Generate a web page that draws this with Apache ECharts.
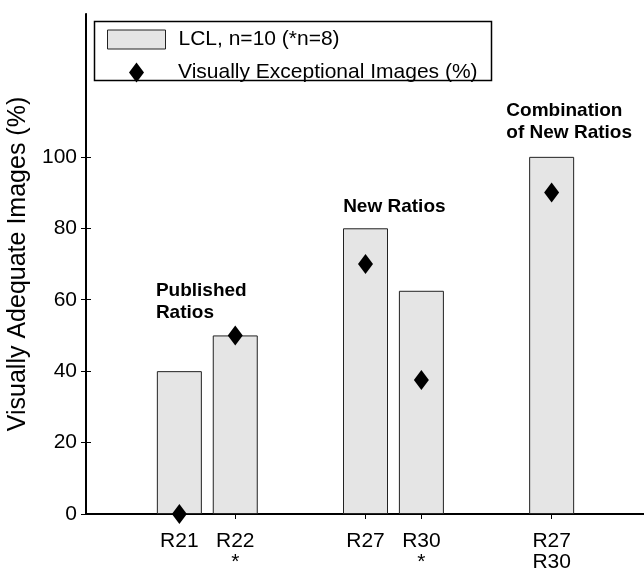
<!DOCTYPE html>
<html><head><meta charset="utf-8">
<script src="https://cdn.jsdelivr.net/npm/echarts@6/dist/echarts.min.js"></script>
<style>html,body{margin:0;padding:0;background:#fff}#c{width:644px;height:572px}</style>
</head><body><div id="c"></div>
<script>
// ---- data ----
const categories = ['R21', 'R22\n*', 'R27', 'R30\n*', 'R27\nR30'];
const xPositions = [1.67, 2.67, 5, 6, 8.33];
const lclValues = [40, 50, 80, 62.5, 100];
const exceptionalValues = [0, 50, 70, 37.5, 90];
const yTicks = [0, 20, 40, 60, 80, 100];
const annotationTexts = ['Published\nRatios', 'New Ratios', 'Combination\nof New Ratios'];
const annotationX = [1.25, 4.6, 7.52];
const annotationY = [65.5, 89.2, 116];
const seriesNames = ['LCL, n=10 (*n=8)', 'Visually Exceptional Images (%)'];

const FONT = 'Liberation Sans';
const chart = echarts.init(document.getElementById('c'));
chart.setOption({
  animation: false,
  textStyle: { fontFamily: FONT },
  grid: { left: 86, top: 14, width: 559, height: 500, containLabel: false, outerBoundsMode: 'none' },
  legend: [
    { data: [{ name: seriesNames[0], icon: 'rect' }], left: 107, top: 29, padding: 0, itemWidth: 58, itemHeight: 19,
      selectedMode: false, itemStyle: { borderColor: '#222', borderWidth: 1 },
      textStyle: { fontFamily: FONT, fontSize: 21, color: '#000', padding: [0, 0, 0, 8] } },
    { data: [{ name: seriesNames[1], icon: 'diamond' }], left: 129, top: 62, padding: 0, itemWidth: 15, itemHeight: 20,
      selectedMode: false, itemStyle: { color: '#000', borderWidth: 0, opacity: 1 },
      textStyle: { fontFamily: FONT, fontSize: 21, color: '#000', padding: [0, 0, 0, 29] } }
  ],
  graphic: [{ type: 'rect', shape: { x: 94.5, y: 21.5, width: 397, height: 59 },
    style: { fill: 'none', stroke: '#000', lineWidth: 1.5 }, z: 10 }],
  xAxis: [
    { type: 'value', min: 0, max: 10, position: 'bottom',
      axisLine: { show: true, lineStyle: { color: '#000', width: 2 } },
      axisTick: { show: true, inside: true, length: 5, customValues: xPositions, lineStyle: { color: '#000' } },
      axisLabel: { customValues: xPositions, color: '#000', fontSize: 21, lineHeight: 21, margin: 17,
        formatter: v => categories[xPositions.indexOf(v)] ?? '' },
      splitLine: { show: false } },
    { type: 'value', min: 0, max: 10, position: 'top',
      axisLine: { show: true, lineStyle: { color: '#000', width: 1 } },
      axisTick: { show: true, inside: true, length: 5, customValues: xPositions, lineStyle: { color: '#000' } },
      axisLabel: { show: false }, splitLine: { show: false } }
  ],
  yAxis: [
    { type: 'value', min: 0, max: 140, interval: 20, position: 'left',
      name: 'Visually Adequate Images (%)', nameLocation: 'middle', nameGap: 51,
      nameTextStyle: { fontSize: 25, color: '#000', fontFamily: FONT },
      axisLine: { show: true, lineStyle: { color: '#000', width: 2 } },
      axisTick: { show: true, inside: true, length: 5, customValues: yTicks, lineStyle: { color: '#000' } },
      axisLabel: { customValues: yTicks, color: '#000', fontSize: 21, margin: 9 },
      splitLine: { show: false } },
    { type: 'value', min: 0, max: 140, interval: 20, position: 'right',
      axisLine: { show: true, lineStyle: { color: '#000', width: 1 } },
      axisTick: { show: true, inside: true, length: 5, customValues: yTicks, lineStyle: { color: '#000' } },
      axisLabel: { show: false }, splitLine: { show: false } }
  ],
  series: [
    { name: seriesNames[0], type: 'bar', xAxisIndex: 0, yAxisIndex: 0, barWidth: 45,
      data: xPositions.map((x, i) => [x, lclValues[i]]),
      itemStyle: { color: '#e5e5e5', borderColor: '#222', borderWidth: 1 } },
    { name: seriesNames[1], type: 'scatter', xAxisIndex: 0, yAxisIndex: 0, symbol: 'diamond',
      symbolSize: [15, 20], clip: false, z: 5,
      data: xPositions.map((x, i) => [x, exceptionalValues[i]]),
      itemStyle: { color: '#000', opacity: 1 } },
    { name: 'annotations', type: 'scatter', xAxisIndex: 0, yAxisIndex: 0, silent: true,
      symbolSize: 0, clip: false, z: 6,
      data: annotationTexts.map((t, i) => ({ value: [annotationX[i], annotationY[i]], name: t })),
      itemStyle: { opacity: 1 },
      label: { show: true, position: [0, 0], align: 'left', verticalAlign: 'top',
        formatter: p => p.name, fontFamily: FONT, fontWeight: 'bold', fontSize: 19,
        lineHeight: 22, color: '#000' } }
  ]
});
</script></body></html>
